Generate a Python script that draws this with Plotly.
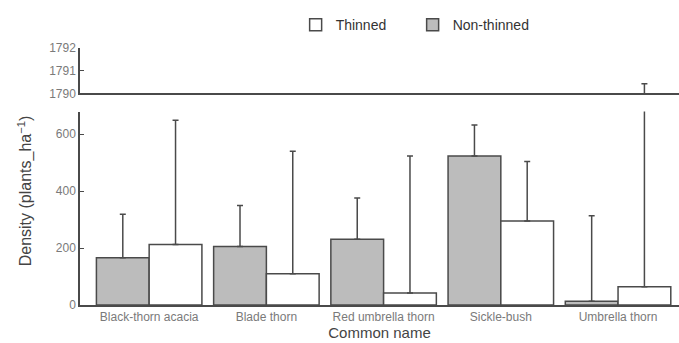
import plotly.graph_objects as go

categories = ["Black-thorn acacia", "Blade thorn", "Red umbrella thorn", "Sickle-bush", "Umbrella thorn"]
nonthinned_mean = [166, 206, 231, 524, 13]
nonthinned_upper = [319, 350, 376, 633, 314]
thinned_mean = [213, 110, 42, 295, 64]
thinned_upper = [649, 540, 524, 504, 1790.43]

low_ticks = [0, 200, 400, 600]
high_ticks = [1790, 1791, 1792]

line_col = "#4a4a4a"
grey_fill = "#bcbcbc"
tick_font = dict(family="Liberation Sans, Arial, sans-serif", size=12, color="#7a7a7a")

err_non = [u - m for u, m in zip(nonthinned_upper, nonthinned_mean)]
err_thin = [u - m for u, m in zip(thinned_upper, thinned_mean)]

fig = go.Figure()

def add_pair(xa, ya, show):
    fig.add_trace(go.Bar(
        x=categories, y=nonthinned_mean, name="Non-thinned", xaxis=xa, yaxis=ya,
        marker=dict(color=grey_fill, line=dict(color=line_col, width=1.5)),
        error_y=dict(type="data", symmetric=False, array=err_non, arrayminus=[0]*5,
                     color=line_col, thickness=1.5, width=3),
        showlegend=show, legendrank=2))
    fig.add_trace(go.Bar(
        x=categories, y=thinned_mean, name="Thinned", xaxis=xa, yaxis=ya,
        marker=dict(color="white", line=dict(color=line_col, width=1.5)),
        error_y=dict(type="data", symmetric=False, array=err_thin, arrayminus=[0]*5,
                     color=line_col, thickness=1.5, width=3),
        showlegend=show, legendrank=1))

add_pair("x", "y", True)
add_pair("x2", "y2", False)

xr = [-0.59, 4.52]
fig.update_layout(
    width=679, height=343,
    margin=dict(l=80, r=0, t=45, b=38),
    paper_bgcolor="white", plot_bgcolor="white",
    barmode="group", bargap=0.1, bargroupgap=0,
    font=dict(family="Liberation Sans, Arial, sans-serif", color="#444"),
    legend=dict(orientation="h", x=0.36, y=0.88, xanchor="left", yanchor="bottom",
                yref="container", font=dict(size=14, color="#333"),
                entrywidth=72, entrywidthmode="pixels",
                bgcolor="rgba(0,0,0,0)", traceorder="normal"),
    xaxis=dict(domain=[0, 1], range=xr, showline=True, linecolor=line_col, linewidth=1.5,
               ticks="", tickfont=tick_font, anchor="y",
               title=dict(text="Common name", font=dict(size=15, color="#444"), standoff=2)),
    yaxis=dict(domain=[0, 0.7527], range=[0, 680], tickvals=low_ticks, showline=True,
               linecolor=line_col, linewidth=1.5, ticks="inside", ticklen=4,
               tickcolor=line_col, tickfont=tick_font, showgrid=False, zeroline=False),
    xaxis2=dict(domain=[0, 1], range=xr, showline=True, linecolor=line_col, linewidth=1.5,
                ticks="", showticklabels=False, anchor="y2"),
    yaxis2=dict(domain=[0.823, 1.0], range=[1790, 1792], tickvals=high_ticks, showline=True,
                linecolor=line_col, linewidth=1.5, ticks="inside", ticklen=4,
                tickcolor=line_col, tickfont=tick_font, showgrid=False, zeroline=False,
                anchor="x2"),
    annotations=[dict(text="Density (plants_ha<sup>\u22121</sup>)", textangle=-90,
                      xref="paper", yref="paper", x=-55/599, y=(305-190)/260,
                      xanchor="center", yanchor="middle", showarrow=False,
                      font=dict(size=16, color="#444"))],
)
fig.write_html("out.html")
